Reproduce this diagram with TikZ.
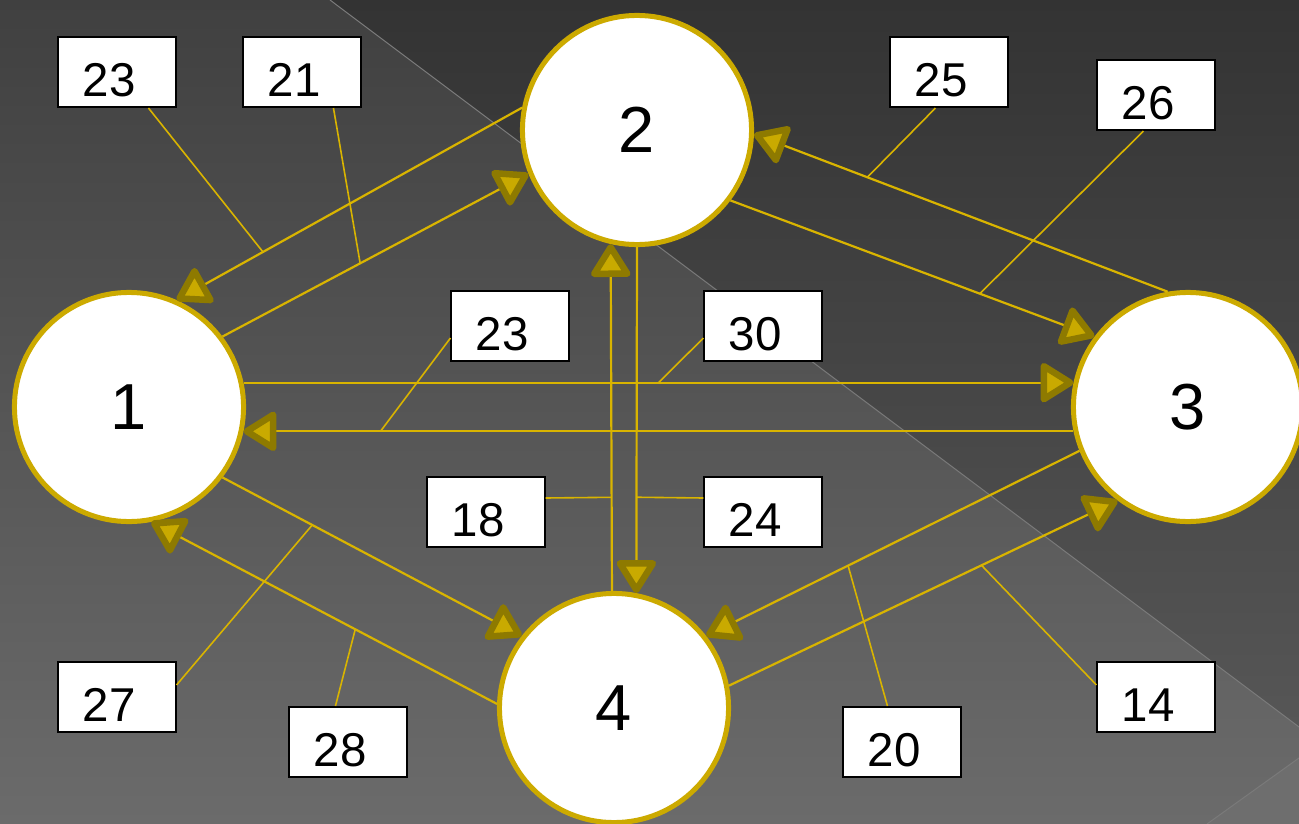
\documentclass[tikz,border=0pt]{standalone}
\usepackage{fontspec}
\setmainfont{Liberation Sans}
\usetikzlibrary{arrows.meta,calc}

\definecolor{bgtop}{HTML}{404040}
\definecolor{bgbottom}{HTML}{6B6B6B}
\definecolor{darktop}{HTML}{333333}
\definecolor{darkbottom}{HTML}{565656}
\definecolor{cornerlight}{HTML}{6E6E6E}
\definecolor{rimline}{HTML}{7A7A7A}
\definecolor{ringyellow}{HTML}{CCAA00}
\definecolor{roadyellow}{HTML}{D9B400}
\definecolor{tipfill}{HTML}{C9AA00}
\definecolor{tipedge}{HTML}{8E7A00}

\tikzset{
  vertex/.style={circle, draw=ringyellow, line width=0.05cm, fill=white,
    minimum size=2.29cm, inner sep=0pt, font=\fontsize{18.5}{18}\selectfont},
  weight/.style={draw=black, line width=0.02cm, fill=white, inner sep=0pt,
    minimum width=1.17cm, minimum height=0.70cm, text width=0.68cm, align=left,
    text height=0.55cm, text depth=0.07cm, font=\fontsize{13.5}{14}\selectfont},
  road/.style={draw=roadyellow, line width=0.022cm,
    -{Triangle[length=0.36cm, width=0.43cm, fill=tipfill, color=tipedge, line width=0.065cm, round]}},
  pointer/.style={draw=roadyellow, line width=0.016cm}
}

\begin{document}
\begin{tikzpicture}[x=0.01cm, y=-0.01cm]
    \useasboundingbox (0,0) rectangle (1299,824);

    % background
    \shade[top color=bgtop, bottom color=bgbottom] (0,0) rectangle (1299,824);
    \shade[top color=darktop, bottom color=darkbottom] (330,0) -- (1299,0) -- (1299,727) -- cycle;
    \fill[cornerlight] (1207,824) -- (1299,758) -- (1299,824) -- cycle;
    \draw[rimline, line width=0.01cm] (330,0) -- (1299,727);
    \draw[rimline, line width=0.01cm] (1207,824) -- (1299,758);

    % vertices
    \node[vertex] (v1) at (129,407) {1};
    \node[vertex] (v2) at (637,130) {2};
    \node[vertex] (v3) at (1188,407) {3};
    \node[vertex] (v4) at (614,708) {4};

    % directed edges
    \draw[road] (v1.37) -- coordinate[pos=0.45] (t21) (v2.202);
    \draw[road] (v2.169) -- coordinate[pos=0.75] (t23a) (v1.66);
    \draw[road] (v2.-37) -- coordinate[pos=0.685] (t26) (v3.143);
    \draw[road] (v3.100) -- coordinate[pos=0.726] (t25) (v2.-2);
    \draw[road] (v1.12) -- coordinate[pos=0.5] (t30) (v3.168);
    \draw[road] (v3.192) -- coordinate[pos=0.835] (t23b) (v1.-12);
    \draw[road] (v4.91) -- coordinate[pos=0.27] (t18) (v2.257);
    \draw[road] (v2.270) -- coordinate[pos=0.723] (t24) (v4.79);
    \draw[road] (v1.-37) -- coordinate[pos=0.3] (t27) (v4.142);
    \draw[road] (v4.178) -- coordinate[pos=0.41] (t28) (v1.-79);
    \draw[road] (v3.202) -- coordinate[pos=0.62] (t20) (v4.38);
    \draw[road] (v4.11) -- coordinate[pos=0.65] (t14) (v3.233);

    % weights
    \node[weight] (w23a) at (117,72) {23};
    \node[weight] (w21) at (302,72) {21};
    \node[weight] (w25) at (949,72) {25};
    \node[weight] (w26) at (1156,95) {26};
    \node[weight] (w23b) at (510,326) {23};
    \node[weight] (w30) at (763,326) {30};
    \node[weight] (w18) at (486,512) {18};
    \node[weight] (w24) at (763,512) {24};
    \node[weight] (w27) at (117,697) {27};
    \node[weight] (w28) at (348,742) {28};
    \node[weight] (w20) at (902,742) {20};
    \node[weight] (w14) at (1156,697) {14};

    % weight -> edge
    \draw[pointer] ($(w23a.south west)+(91,0)$) -- (t23a);
    \draw[pointer] ($(w21.south west)+(91,0)$) -- (t21);
    \draw[pointer] ($(w25.south west)+(46,0)$) -- (t25);
    \draw[pointer] ($(w26.south west)+(47,0)$) -- (t26);
    \draw[pointer] ($(w23b.west)+(0,12)$) -- (t23b);
    \draw[pointer] ($(w30.west)+(0,12)$) -- (t30);
    \draw[pointer] ($(w18.east)+(0,-14)$) -- (t18);
    \draw[pointer] ($(w24.west)+(0,-14)$) -- (t24);
    \draw[pointer] ($(w27.east)+(0,-12)$) -- (t27);
    \draw[pointer] ($(w28.north west)+(47,0)$) -- (t28);
    \draw[pointer] ($(w20.north west)+(45,0)$) -- (t20);
    \draw[pointer] ($(w14.west)+(0,-12)$) -- (t14);
\end{tikzpicture}
\end{document}
